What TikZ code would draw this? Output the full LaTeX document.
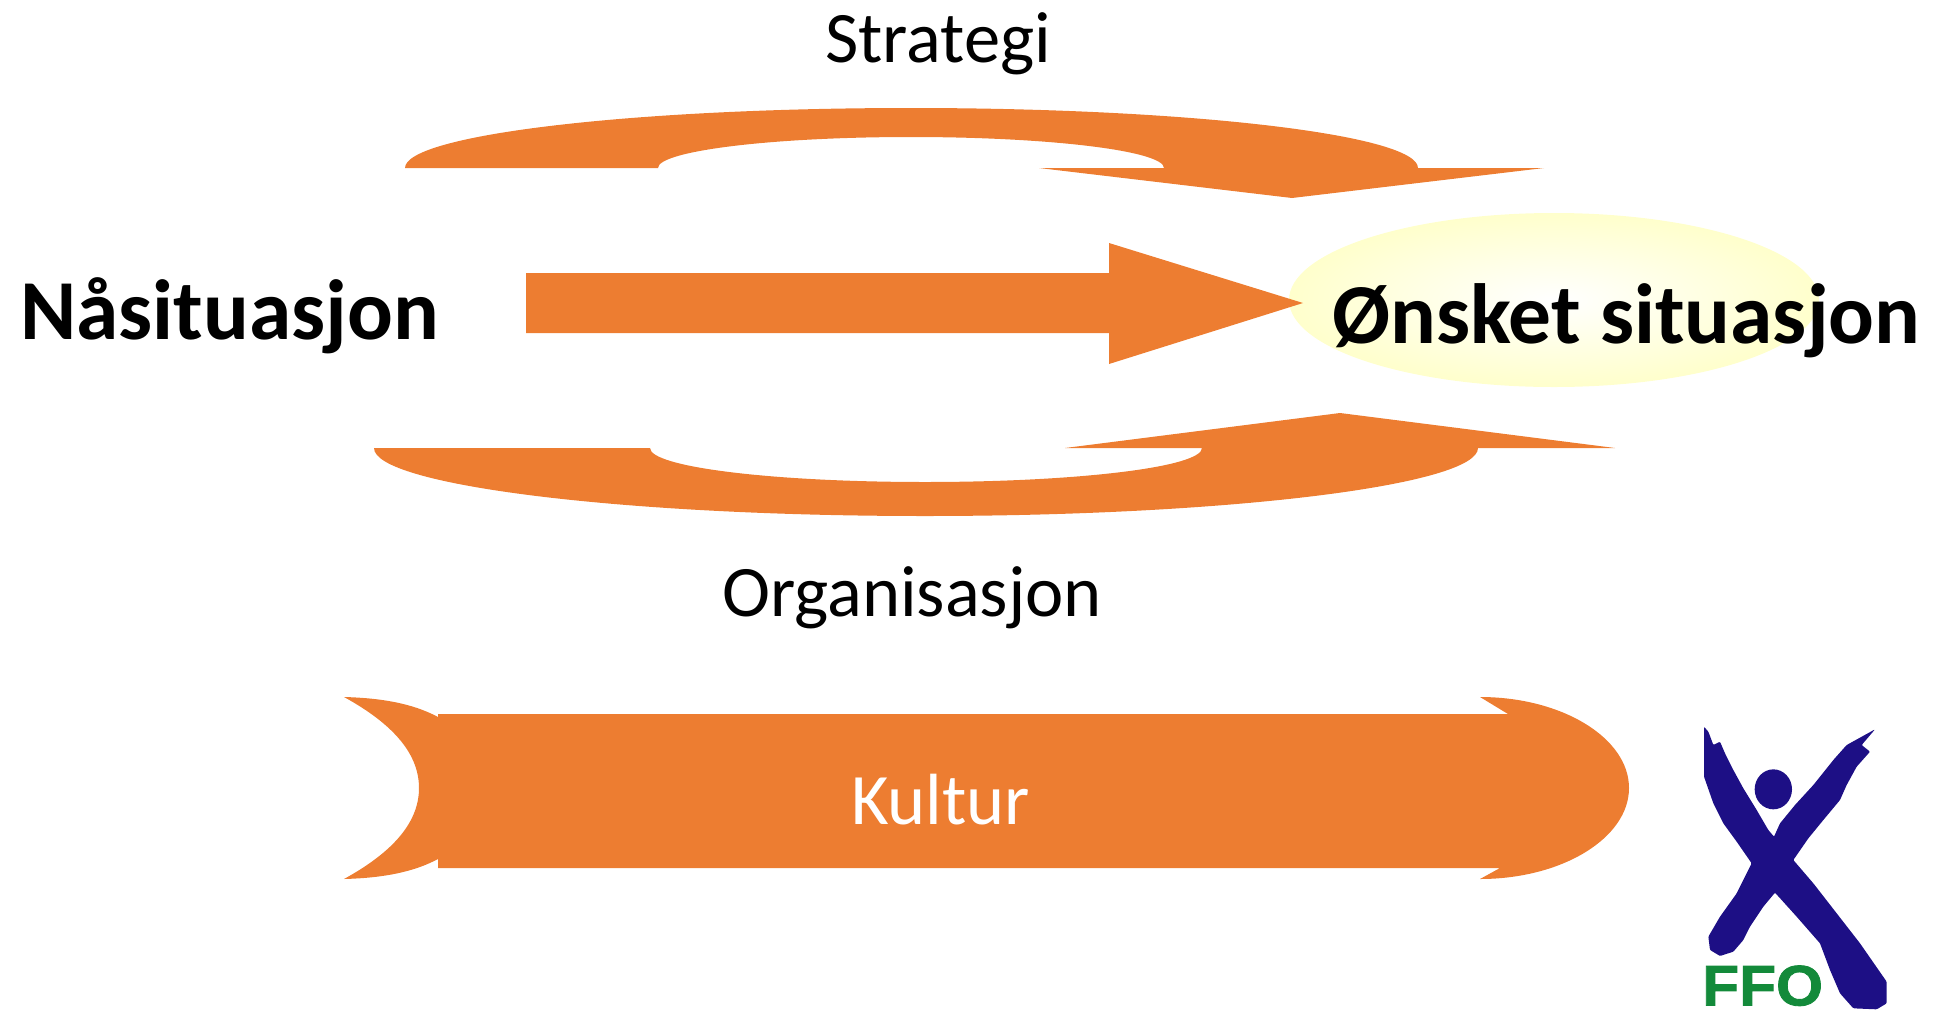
\documentclass[tikz,border=0pt]{standalone}
\usepackage{fontspec}
\setmainfont{Carlito}
\newfontfamily\logofont[BoldFeatures={FakeBold=1.5},FakeStretch=1.06]{Liberation Sans}
\definecolor{blockorange}{HTML}{ED7D31}
\definecolor{softyellow}{HTML}{FFFFCC}
\definecolor{logoblue}{HTML}{1D0F85}
\definecolor{logogreen}{HTML}{138A3A}
\tikzset{
  block/.style={fill=blockorange,draw=none},
  plainlabel/.style={anchor=base west,inner sep=0pt,font=\fontsize{72.5}{72.5}\selectfont,text=black},
  boldlabel/.style={anchor=base west,inner sep=0pt,font=\fontsize{85.4}{85.4}\selectfont\bfseries,text=black},
}
\begin{document}
\begin{tikzpicture}[x=1pt,y=-1pt]
\useasboundingbox (0,0) rectangle (1939,1010);
% top curved arrow
\fill[block] (405,168) .. controls (405,135) and (631,108) .. (911,108)
  .. controls (1191,108) and (1418,135) .. (1418,168)
  -- (1544,168) -- (1292,198) -- (1039,168) -- (1164,168)
  .. controls (1164,151) and (1051,137) .. (911,137)
  .. controls (771,137) and (658,151) .. (658,168) -- cycle;
% target ellipse
\shade[inner color=white,outer color=softyellow,draw=none] (1554,300) ellipse [x radius=265,y radius=87];
% middle arrow
\fill[block] (526,273) -- (1109,273) -- (1109,243) -- (1303,303) -- (1109,364) -- (1109,333) -- (526,333) -- cycle;
% bottom curved arrow
\fill[block] (374,448) .. controls (374,485) and (621,516) .. (925,516)
  .. controls (1229,516) and (1478,485) .. (1478,448)
  -- (1615,448) -- (1340,413) -- (1065,448) -- (1202,448)
  .. controls (1202,467) and (1078,482) .. (925,482)
  .. controls (772,482) and (650,467) .. (650,448) -- cycle;
% culture band
\fill[block] (1480,697) .. controls (1562,697) and (1629,738) .. (1629,788)
  .. controls (1629,838) and (1562,879) .. (1480,879)
  -- (1500,868) -- (438,868) -- (438,714) -- (1508,714) -- cycle;
\fill[block] (344,697) .. controls (380,698) and (412,703) .. (438,717) -- (438,859)
  .. controls (412,873) and (380,878) .. (344,879)
  .. controls (395,851) and (419,821) .. (419,788)
  .. controls (419,755) and (395,725) .. (344,697) -- cycle;
% texts
\node[plainlabel] (strategi) at (825,62) {Strategi};
\node[plainlabel] (organisasjon) at (722,616) {Organisasjon};
\node[plainlabel,text=white] (kultur) at (851,824) {Kultur};
\node[boldlabel] (naa) at (20,339) {Nåsituasjon};
\node[boldlabel] (onsket) at (1332,343) {Ønsket situasjon};
% logo
\begin{scope}[shift={(1680,710)},x=1pt/3,y=-1pt/3]
\fill[logoblue,rounded corners=1pt] (72,50) -- (85,65) -- (100,105) -- (120,95) -- (135,130) -- (160,180) -- (190,235) -- (230,300) -- (265,360) -- (282,380) -- (300,340) -- (345,285) -- (400,225) -- (460,150) -- (500,105) -- (585,58) -- (545,105) -- (570,125) -- (530,170) -- (500,225) -- (480,270) -- (430,330) -- (385,385) -- (340,450) -- (400,520) -- (470,610) -- (540,700) -- (620,815) -- (620,880) -- (590,898) -- (520,895) -- (480,850) -- (450,780) -- (420,700) -- (350,620) -- (285,548) -- (250,590) -- (210,650) -- (190,690) -- (160,725) -- (120,738) -- (90,720) -- (85,680) -- (120,620) -- (170,550) -- (215,460) -- (170,395) -- (130,340) -- (100,280) -- (72,200) -- cycle;
\fill[logoblue] (280,238) ellipse [x radius=56,y radius=60];
\node[anchor=base west,inner sep=0pt,text=logogreen,font=\logofont\bfseries\fontsize{57}{57}\selectfont] (ffo) at (66,886) {FFO};
\end{scope}
\end{tikzpicture}
\end{document}
